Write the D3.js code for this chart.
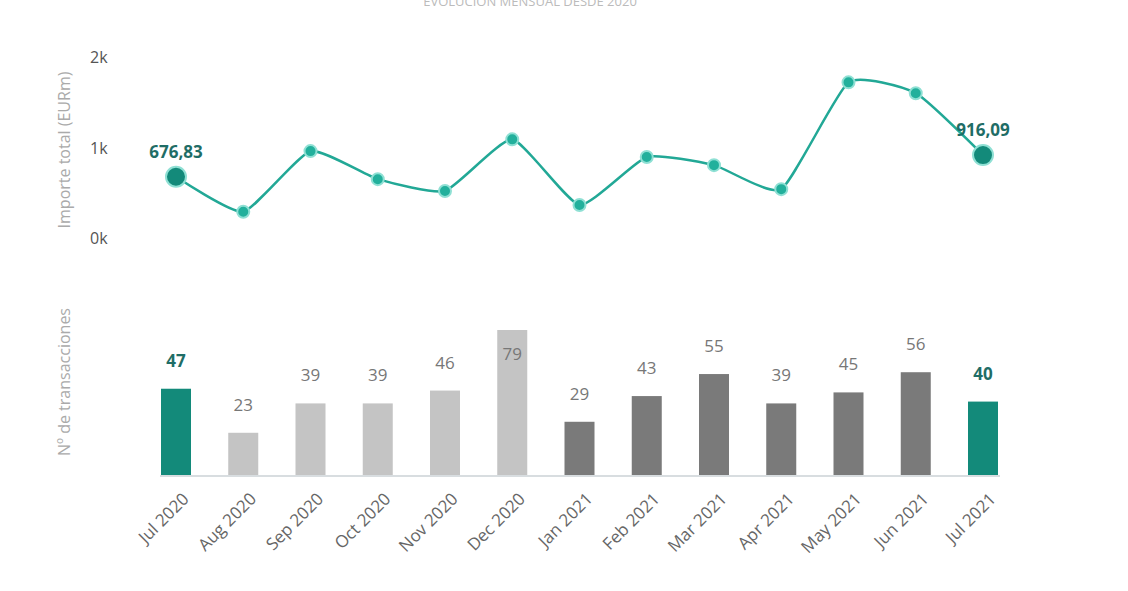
<!DOCTYPE html>
<html><head><meta charset="utf-8">
<script src="https://cdn.jsdelivr.net/npm/d3@7"></script>
<style>body{margin:0;background:#fff;font-family:"Open Sans",sans-serif}</style>
</head><body><svg></svg>
<script>
const months = ["Jul 2020","Aug 2020","Sep 2020","Oct 2020","Nov 2020","Dec 2020","Jan 2021","Feb 2021","Mar 2021","Apr 2021","May 2021","Jun 2021","Jul 2021"];
const importe = [676.83, 290, 960, 650, 520, 1090, 365, 895, 805, 540, 1720, 1600, 916.09];
const transacciones = [47, 23, 39, 39, 46, 79, 29, 43, 55, 39, 45, 56, 40];
const barGroup = ["hl","light","light","light","light","light","dark","dark","dark","dark","dark","dark","hl"];
const yTicks = [0, 1000, 2000];

const svg = d3.select("svg").attr("width", 1128).attr("height", 591);
const color = { hl: "#138a7a", light: "#c4c4c4", dark: "#7a7a7a" };

const x = d3.scalePoint().domain(months).range([176, 983]);
const yL = d3.scaleLinear().domain([0, 2000]).range([238, 57]);
const yB = d3.scaleLinear().domain([0, 79]).range([475, 330]);

svg.append("text").attr("x", 530).attr("y", 6).attr("text-anchor", "middle")
  .style("fill", "#bbb").style("font-size", "13px").text("EVOLUCIÓN MENSUAL DESDE 2020");

// line y axis
svg.append("g").selectAll("text").data(yTicks).join("text")
  .attr("x", 90).attr("y", d => yL(d) + 6)
  .style("fill", "#555").style("font-size", "16px")
  .text(d => (d / 1000) + "k");

svg.append("text").attr("transform", "translate(70,150) rotate(-90)")
  .attr("text-anchor", "middle").style("fill", "#aaa").style("font-size", "16px")
  .text("Importe total (EURm)");
svg.append("text").attr("transform", "translate(70,382) rotate(-90)")
  .attr("text-anchor", "middle").style("fill", "#aaa").style("font-size", "16px")
  .text("Nº de transacciones");

const line = d3.line().x((d, i) => x(months[i])).y(d => yL(d)).curve(d3.curveCardinal.tension(0.5));
svg.append("path").datum(importe).attr("d", line)
  .attr("fill", "none").attr("stroke", "#22a896").attr("stroke-width", 2.5);

svg.selectAll(".pt").data(importe).join("circle")
  .attr("cx", (d, i) => x(months[i])).attr("cy", d => yL(d))
  .attr("r", (d, i) => (i === 0 || i === importe.length - 1) ? 10 : 6)
  .attr("fill", (d, i) => (i === 0 || i === importe.length - 1) ? "#138a7a" : "#22b09c")
  .attr("stroke", "#8fe0d4").attr("stroke-width", 2);

[0, importe.length - 1].forEach(i => {
  svg.append("text").attr("x", x(months[i])).attr("y", yL(importe[i]) - 19)
    .attr("text-anchor", "middle").style("fill", "#1f6d66").style("font-weight", "bold")
    .style("font-size", "17px").text(importe[i].toFixed(2).replace(".", ","));
});

// bars
const bw = 30;
svg.append("line").attr("x1", 160).attr("x2", 1000).attr("y1", 476).attr("y2", 476)
  .attr("stroke", "#d8dde0").attr("stroke-width", 2);
svg.selectAll(".bar").data(transacciones).join("rect")
  .attr("x", (d, i) => x(months[i]) - bw / 2).attr("y", d => yB(d))
  .attr("width", bw).attr("height", d => yB(0) - yB(d))
  .attr("fill", (d, i) => color[barGroup[i]]);
svg.selectAll(".bl").data(transacciones).join("text")
  .attr("x", (d, i) => x(months[i])).attr("y", (d, i) => i === 5 ? yB(d) + 30 : yB(d) - 22)
  .attr("text-anchor", "middle").style("font-size", "17px")
  .style("fill", (d, i) => barGroup[i] === "hl" ? "#1f6d66" : "#777")
  .style("font-weight", (d, i) => barGroup[i] === "hl" ? "bold" : "normal")
  .text(d => d);

svg.selectAll(".xl").data(months).join("text")
  .attr("transform", d => `translate(${x(d) + 14},${500}) rotate(-45)`)
  .attr("text-anchor", "end").style("fill", "#666").style("font-size", "17px")
  .text(d => d);
</script></body></html>
